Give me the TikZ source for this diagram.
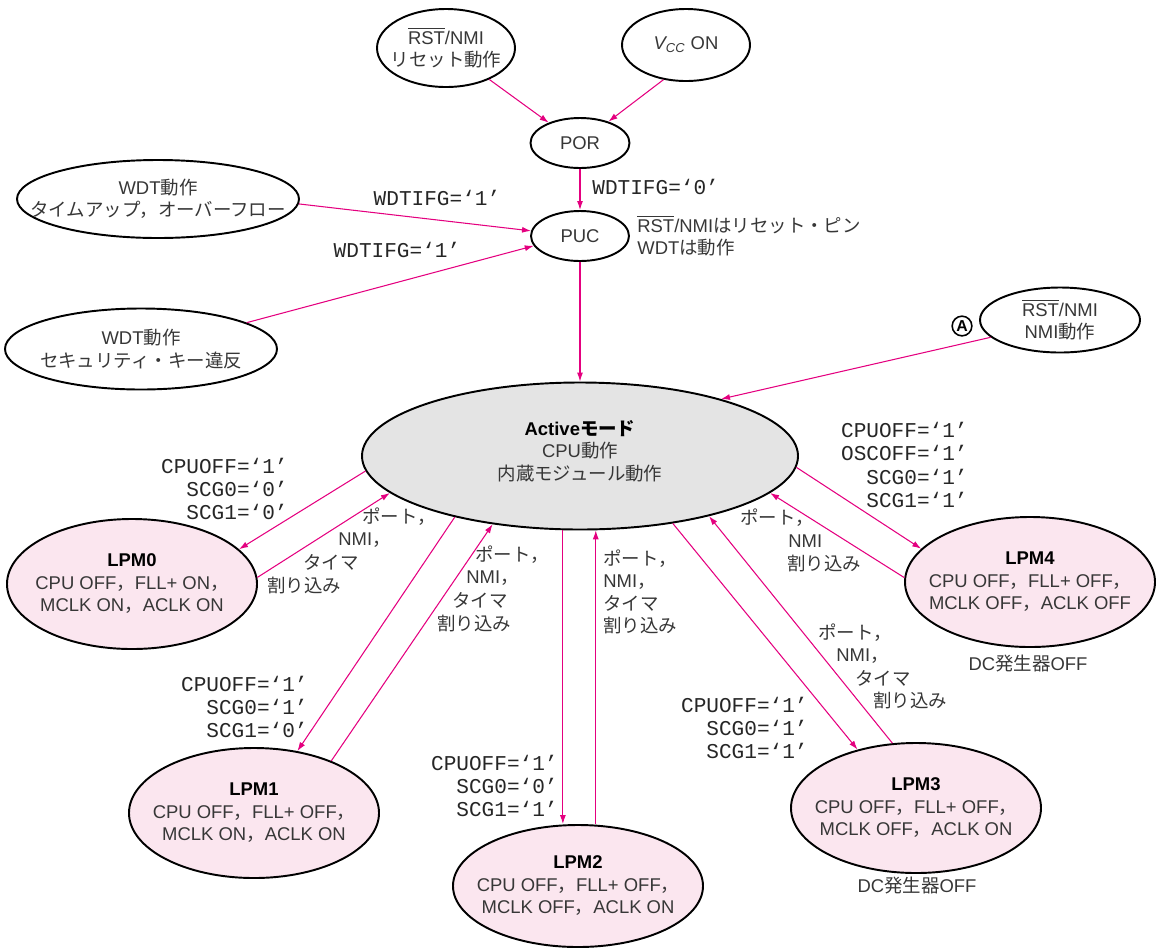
\documentclass[tikz,border=0pt]{standalone}
\usepackage{fontspec}
\setmainfont{Liberation Sans}
\setmonofont{Liberation Mono}
\newfontfamily\jpfont{Noto Sans CJK JP}
\usetikzlibrary{arrows.meta, shapes.geometric}
\definecolor{wakePink}{RGB}{228,0,127}
\definecolor{lpmFill}{RGB}{251,230,239}
\definecolor{activeFill}{RGB}{228,228,228}
\definecolor{textGray}{RGB}{55,55,55}
\newcommand{\jp}[1]{{\jpfont #1}}
\newcommand{\rstbar}{$\overline{\mbox{RST}}$}
\tikzset{
    stateNode/.style={ellipse, draw=black, line width=1.1pt, fill=white, inner xsep=-30mm, inner ysep=-30mm, align=center, text=textGray, font=\fontsize{10.5}{12.8}\selectfont},
    lpmNode/.style={stateNode, fill=lpmFill, minimum width=50mm, minimum height=26mm},
    flowLine/.style={->, draw=wakePink, line width=0.6pt},
    flagText/.style={align=right, inner sep=0pt, text=black!85, font=\ttfamily\fontsize{12}{13.3}\selectfont},
    noteText/.style={align=left, inner sep=0pt, text=textGray, font=\fontsize{10.5}{12.8}\selectfont}
}

\begin{document}
\begin{tikzpicture}[x=0.2mm, y=-0.2mm, >={Latex[length=1.8mm, width=1.2mm]}]

    \useasboundingbox (0,0) rectangle (1159,949);

    % Reset sources
    \node[stateNode, minimum width=27.6mm, minimum height=15.6mm] (rstRes) at (446,48) {\rstbar/NMI\\\jp{リセット動作}};
    \node[stateNode, minimum width=25.6mm, minimum height=14.4mm] (vcc) at (686,45) {{\itshape V\textsubscript{CC}} ON};
    \node[stateNode, minimum width=19.8mm, minimum height=10mm] (por) at (580,143) {POR};
    \node[stateNode, minimum width=19.6mm, minimum height=10mm] (puc) at (580,236) {PUC};
    \node[stateNode, minimum width=56.4mm, minimum height=15.6mm] (wdtA) at (158,199) {WDT\jp{動作}\\\jp{タイムアップ，オーバーフロー}};
    \node[stateNode, minimum width=54.4mm, minimum height=16.2mm] (wdtB) at (141,349) {WDT\jp{動作}\\\jp{セキュリティ・キー違反}};
    \node[stateNode, minimum width=32mm, minimum height=13mm] (rstNmi) at (1060,320) {\rstbar/NMI\\NMI\jp{動作}};

    % Active mode and low power modes
    \node[stateNode, fill=activeFill, minimum width=87.2mm, minimum height=29.4mm] (active) at (580,456)
        {{\color{black}\bfseries Active\jp{モード}}\\CPU\jp{動作}\\\jp{内蔵モジュール動作}\rule[-2.3mm]{0pt}{0pt}};
    \node[lpmNode] (lpm0) at (132,584) {{\color{black}\bfseries LPM0}\\CPU OFF\jp{，}FLL+ ON\jp{，}\\MCLK ON\jp{，}ACLK ON};
    \node[lpmNode] (lpm1) at (254,813) {{\color{black}\bfseries LPM1}\\CPU OFF\jp{，}FLL+ OFF\jp{，}\\MCLK ON\jp{，}ACLK ON};
    \node[lpmNode, minimum height=24.4mm] (lpm2) at (578,886) {{\color{black}\bfseries LPM2}\\CPU OFF\jp{，}FLL+ OFF\jp{，}\\MCLK OFF\jp{，}ACLK ON};
    \node[lpmNode] (lpm3) at (916,808) {{\color{black}\bfseries LPM3}\\CPU OFF\jp{，}FLL+ OFF\jp{，}\\MCLK OFF\jp{，}ACLK ON};
    \node[lpmNode] (lpm4) at (1030,582) {{\color{black}\bfseries LPM4}\\CPU OFF\jp{，}FLL+ OFF\jp{，}\\MCLK OFF\jp{，}ACLK OFF};

    % Transitions
    \draw[flowLine] (rstRes.324) -- (por.147);
    \draw[flowLine] (vcc.237) -- (por.37);
    \draw[flowLine] (por) -- (puc);
    \draw[flowLine] (wdtA.358) -- (puc.174);
    \draw[flowLine] (wdtB.14) -- (puc.192);
    \draw[flowLine] (puc) -- (active);
    \draw[flowLine] (rstNmi.194) -- (active.22);
    \draw[flowLine] (active.184) -- (lpm0.18);
    \draw[flowLine] (lpm0.3) -- (active.191);
    \draw[flowLine] (active.206) -- (lpm1.55);
    \draw[flowLine] (lpm1.34) -- (active.218);
    \draw[flowLine] (active.257) -- (active.257 |- lpm2.north);
    \draw[flowLine] (active.282 |- lpm2.north) -- (active.282);
    \draw[flowLine] (active.324) -- (lpm3.135);
    \draw[flowLine] (lpm3.110) -- (active.335);
    \draw[flowLine] (active.357) -- (lpm4.163);
    \draw[flowLine] (lpm4.178) -- (active.349);

    % Flag settings
    \node[flagText, anchor=west] (flagPor) at (592,187) {WDTIFG=‘0’};
    \node[flagText] (flagWdtA) at (437,198) {WDTIFG=‘1’};
    \node[flagText] (flagWdtB) at (397,250) {WDTIFG=‘1’};
    \node[flagText, anchor=east] (flagLpm0) at (288,489) {CPUOFF=‘1’\\SCG0=‘0’\\SCG1=‘0’};
    \node[flagText, anchor=east] (flagLpm1) at (308,707) {CPUOFF=‘1’\\SCG0=‘1’\\SCG1=‘0’};
    \node[flagText, anchor=east] (flagLpm2) at (558,786) {CPUOFF=‘1’\\SCG0=‘0’\\SCG1=‘1’};
    \node[flagText, anchor=east] (flagLpm3) at (808,728) {CPUOFF=‘1’\\SCG0=‘1’\\SCG1=‘1’};
    \node[flagText, anchor=east] (flagLpm4) at (968,465) {CPUOFF=‘1’\\OSCOFF=‘1’\\SCG0=‘1’\\SCG1=‘1’};

    % Notes
    \node[noteText, anchor=west] (pucNote) at (637,236) {\rstbar/NMI\jp{はリセット・ピン}\\WDT\jp{は動作}};
    \node[circle, draw=black, line width=0.9pt, inner sep=0.8pt, font=\bfseries\fontsize{9}{9}\selectfont] (markA) at (962,326) {A};
    \node[noteText] (dcLpm4) at (1028,664) {DC\jp{発生器}OFF};
    \node[noteText] (dcLpm3) at (917,886) {DC\jp{発生器}OFF};

    % Interrupt labels
    \node[noteText, anchor=west] (irq0a) at (362,517) {\jp{ポート，}};
    \node[noteText, anchor=west] (irq0b) at (338,540) {NMI\jp{，}};
    \node[noteText, anchor=west] (irq0c) at (303,562) {\jp{タイマ}};
    \node[noteText, anchor=west] (irq0d) at (267,585) {\jp{割り込み}};
    \node[noteText, anchor=west] (irq1a) at (475,555) {\jp{ポート，}};
    \node[noteText, anchor=west] (irq1b) at (466,578) {NMI\jp{，}};
    \node[noteText, anchor=west] (irq1c) at (452,600) {\jp{タイマ}};
    \node[noteText, anchor=west] (irq1d) at (437,623) {\jp{割り込み}};
    \node[noteText, anchor=west] (irq2) at (603,592) {\jp{ポート，}\\NMI\jp{，}\\\jp{タイマ}\\\jp{割り込み}};
    \node[noteText, anchor=west] (irq3a) at (818,633) {\jp{ポート，}};
    \node[noteText, anchor=west] (irq3b) at (836,656) {NMI\jp{，}};
    \node[noteText, anchor=west] (irq3c) at (855,678) {\jp{タイマ}};
    \node[noteText, anchor=west] (irq3d) at (873,700) {\jp{割り込み}};
    \node[noteText, anchor=west] (irq4a) at (740,518) {\jp{ポート，}};
    \node[noteText, anchor=west] (irq4b) at (788,541) {NMI};
    \node[noteText, anchor=west] (irq4c) at (787,563) {\jp{割り込み}};

\end{tikzpicture}
\end{document}
